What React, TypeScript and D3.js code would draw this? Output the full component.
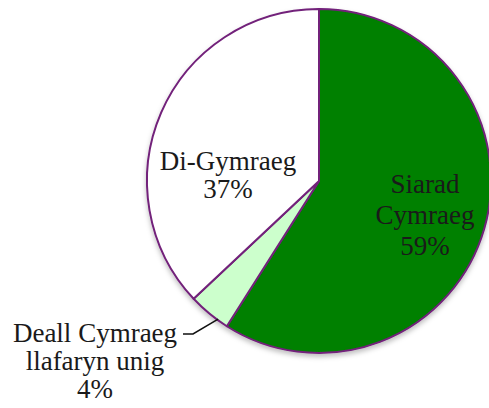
import React from "react";
import * as d3 from "d3";

const categories = ["Siarad Cymraeg", "Deall Cymraeg llafaryn unig", "Di-Gymraeg"];
const values = [59, 4, 37];
const labelLines = [
  ["Siarad", "Cymraeg", "59%"],
  ["Deall Cymraeg", "llafaryn unig", "4%"],
  ["Di-Gymraeg", "37%"],
];
const colors = ["#008000", "#ccffcc", "#ffffff"];

// layout (pixel positions relative to pie centre)
const W = 489;
const H = 408;
const CX = 319;
const CY = 181;
const R = 172;
const labelLayout = [
  { x: 106, y: 12, dy: 31 },
  { x: -224, y: 161, dy: 28 },
  { x: -91, y: -11, dy: 28 },
];

export default function App() {
  const pie = d3
    .pie<number>()
    .sort(null)
    .value((d) => d)
    .startAngle(0)
    .endAngle(2 * Math.PI);
  const arcs = pie(values);
  const arc = d3.arc<d3.PieArcDatum<number>>().innerRadius(0).outerRadius(R);

  // leader line for the small slice
  const small = arcs[1];
  const midA = (small.startAngle + small.endAngle) / 2 - 0.06;
  const ex = Math.sin(midA) * (R - 1);
  const ey = -Math.cos(midA) * (R - 1);
  const leader = d3.line()([
    [-136, 153],
    [-126, 153],
    [ex, ey],
  ]);

  return (
    <svg
      width={W}
      height={H}
      style={{ position: "absolute", left: 0, top: 0, background: "#fff" }}
      fontFamily="'Liberation Serif', 'Times New Roman', serif"
    >
      <defs>
        <filter id="sh" x="-10%" y="-10%" width="120%" height="125%">
          <feDropShadow dx="0" dy="3" stdDeviation="2.5" floodColor="#000" floodOpacity="0.25" />
        </filter>
      </defs>
      <g transform={`translate(${CX},${CY})`}>
        <g filter="url(#sh)">
          {arcs.map((a, i) => (
            <path
              key={categories[i]}
              d={arc(a) || ""}
              fill={colors[i]}
              stroke="#72207a"
              strokeWidth={2}
              strokeLinejoin="round"
            />
          ))}
        </g>
        <path d={leader || ""} fill="none" stroke="#111" strokeWidth={1.5} />
        {labelLines.map((lines, i) => (
          <text
            key={categories[i]}
            textAnchor="middle"
            fontSize={27}
            fill="#1a1a1a"
          >
            {lines.map((t, j) => (
              <tspan key={j} x={labelLayout[i].x} y={labelLayout[i].y + j * labelLayout[i].dy}>
                {t}
              </tspan>
            ))}
          </text>
        ))}
      </g>
    </svg>
  );
}
